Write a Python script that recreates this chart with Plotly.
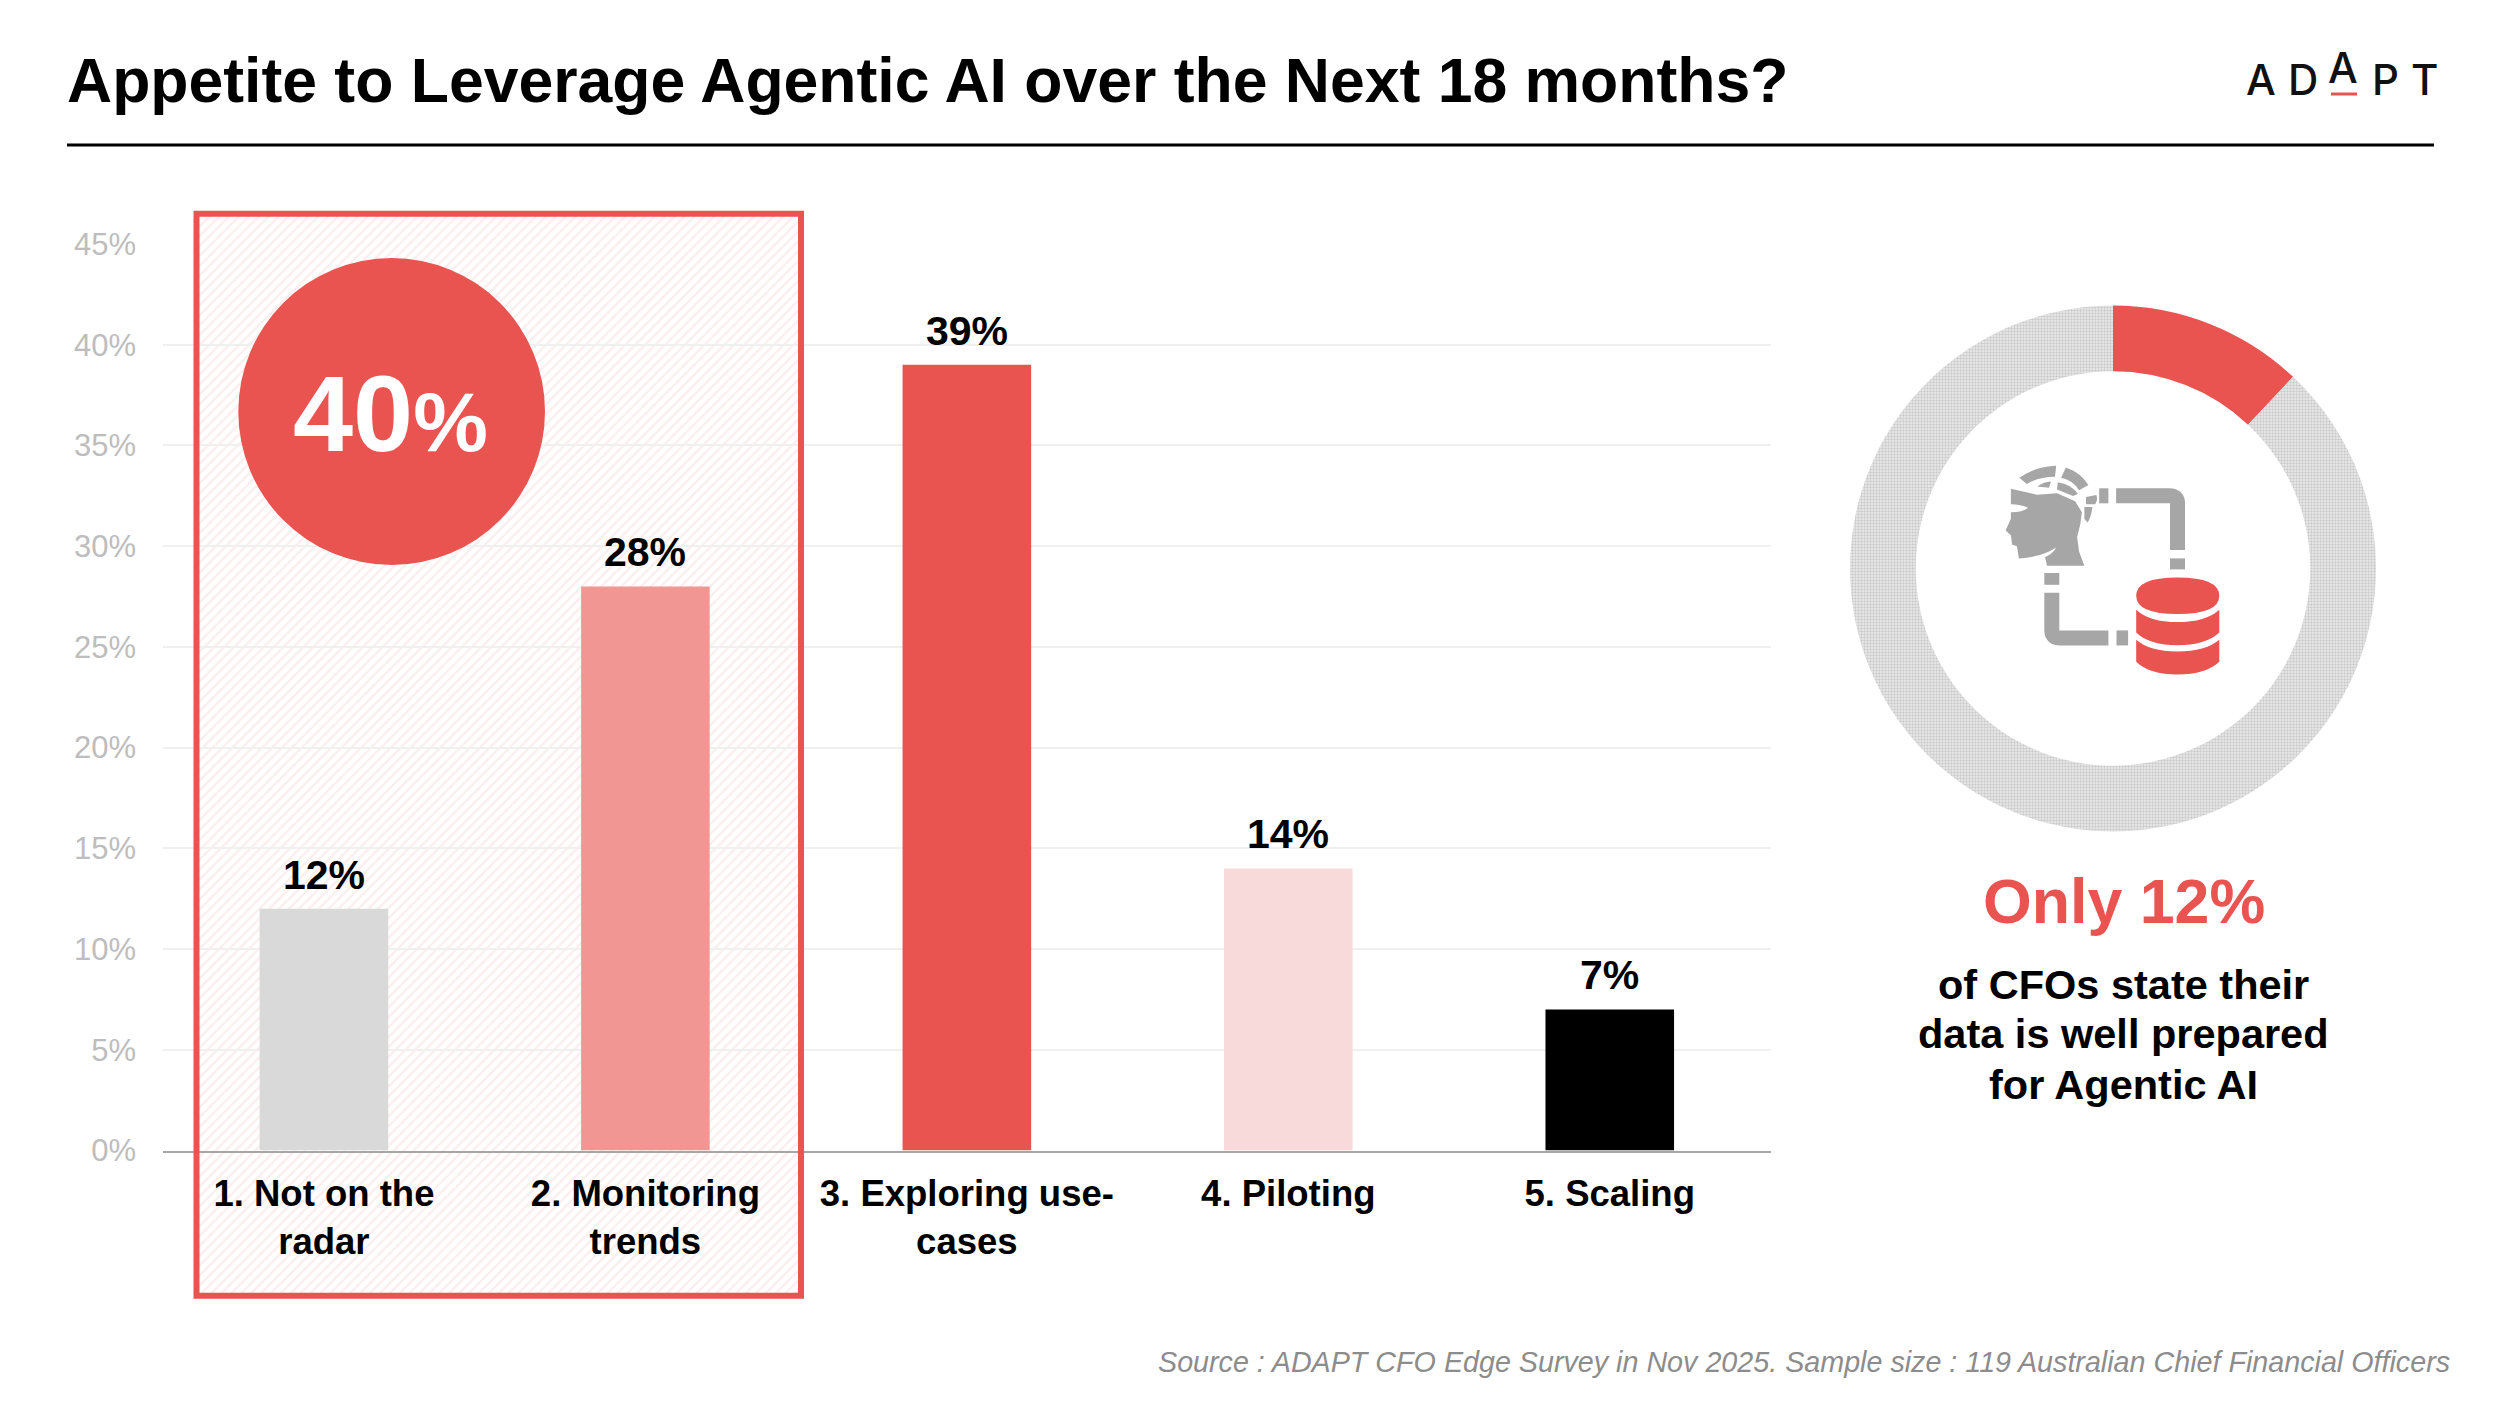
import plotly.graph_objects as go

W, H = 2500, 1406
FONT = "Liberation Sans"
RED = "#E95350"
GREY = "#A6A6A6"

# ---- data
categories = ["1. Not on the<br>radar", "2. Monitoring<br>trends", "3. Exploring use-<br>cases", "4. Piloting", "5. Scaling"]
values = [12, 28, 39, 14, 7]
bar_colors = ["#D9D9D9", "#F29694", RED, "#F8DADA", "#000000"]
y_ticks = [0, 5, 10, 15, 20, 25, 30, 35, 40, 45]
y_tick_labels = ["0%", "5%", "10%", "15%", "20%", "25%", "30%", "35%", "40%", "45%"]
donut_labels = ["Data well prepared", "Other"]
donut_values = [12, 88]
title_text = "Appetite to Leverage Agentic AI over the Next 18 months?"
source_text = "Source : ADAPT CFO Edge Survey in Nov 2025. Sample size : 119 Australian Chief Financial Officers"
callout_lines = ["of CFOs state their", "data is well prepared", "for Agentic AI"]

fig = go.Figure()

# full-canvas pixel subplot for decoration
fig.add_trace(go.Bar(
    x=[498.75], y=[1082], base=[213.7], width=[604.5], xaxis="x", yaxis="y",
    marker=dict(color="#FFFFFF", line=dict(width=0),
                pattern=dict(shape="/", size=7, solidity=0.35, fgcolor="#F6DEDD", bgcolor="#FFFFFF")),
    hoverinfo="skip", showlegend=False))

# main bars
fig.add_trace(go.Bar(
    x=categories, y=values, xaxis="x2", yaxis="y2", width=0.4,
    marker=dict(color=bar_colors, line=dict(width=0)), cliponaxis=False,
    hoverinfo="skip", showlegend=False))

for c, v in zip(categories, values):
    fig.add_annotation(x=c, y=v, xref="x2", yref="y2", text=f"{v}%", showarrow=False, yanchor="middle", yshift=34,
                       font=dict(family=FONT, size=41, color="#000000", weight=700))

# donut
cx, cy, R = 2113, 568.5, 263
fig.add_trace(go.Pie(
    labels=donut_labels, values=donut_values, hole=0.75, sort=False, direction="clockwise", rotation=0,
    textinfo="none", hoverinfo="skip", showlegend=False,
    marker=dict(colors=[RED, "#DADADA"], line=dict(width=0),
                pattern=dict(shape=["", "."], size=3, solidity=0.5, fgcolor="#CBCBCB", bgcolor="#EDEDED")),
    domain=dict(x=[(cx - R) / W, (cx + R) / W], y=[1 - (cy + R) / H, 1 - (cy - R) / H])))

shapes = [
    dict(type="line", x0=67, x1=2434, y0=145, y1=145, line=dict(color="#000000", width=3)),
    dict(type="rect", x0=196.5, x1=801, y0=213.7, y1=1295.7, line=dict(color=RED, width=6), fillcolor="rgba(0,0,0,0)"),
    dict(type="circle", x0=238.3, x1=545, y0=258, y1=565, line=dict(width=0), fillcolor=RED),
    dict(type="line", x0=2331, x1=2357, y0=94, y1=94, line=dict(color=RED, width=3)),
]
for s in shapes:
    s.update(xref="x", yref="y", layer="above")

def zx(v):
    return 1796 + v / 2.49

def zy(v):
    return 284.4 + v / 2.73

def P(d):
    out = []
    for tok in d.split():
        if tok.isalpha():
            out.append(tok)
        else:
            a, b = tok.split(",")
            out.append(f"{zx(float(a)):.1f},{zy(float(b)):.1f}")
    return " ".join(out)

def path(d, fill=None, stroke=None, width=0):
    shp = dict(type="path", path=P(d), xref="x", yref="y", layer="above",
               line=dict(width=width, color=stroke or "rgba(0,0,0,0)"))
    shp["fillcolor"] = fill if fill else "rgba(0,0,0,0)"
    shapes.append(shp)

# icon: connectors
for d in ["M 755,577 L 778,577",
          "M 797,577 L 930,577 Q 950,577 950,597 L 950,725",
          "M 950,748 L 950,778",
          "M 637,788 L 637,820",
          "M 637,842 L 637,945 Q 637,965 657,965 L 778,965",
          "M 798,965 L 827,965"]:
    path(d, stroke=GREY, width=15)

# icon: head
path("M 535,558 L 600,574 L 650,570 L 695,592 L 712,622 L 708,655 L 700,690 L 705,730 L 718,768 L 625,768 "
     "L 620,745 Q 640,735 648,718 Q 610,745 555,748 L 550,715 L 538,710 L 535,685 L 522,672 L 535,640 L 535,622 "
     "Q 565,622 578,610 Q 560,600 535,600 Z", fill=GREY)
path("M 556,528 Q 595,497 648,495 L 645,525 Q 605,525 575,545 Z", fill=GREY)
path("M 672,500 Q 710,515 728,548 L 705,562 Q 690,535 660,528 Z", fill=GREY)
path("M 600,552 Q 615,540 635,538 L 630,555 Z", fill=GREY)
path("M 652,540 Q 685,545 702,572 L 690,578 L 650,560 Z", fill=GREY)
path("M 722,580 L 748,575 Q 752,590 745,600 L 722,600 Z", fill=GREY)
path("M 718,608 L 738,608 Q 735,635 726,650 L 718,640 Z", fill=GREY)

# icon: database
path("M 847,850 Q 847,800 950,800 Q 1054,800 1054,850 Q 1054,900 950,900 Q 847,900 847,850 Z", fill=RED)
path("M 847,888 Q 880,922 950,922 Q 1020,922 1054,888 L 1054,950 Q 1020,985 950,985 Q 880,985 847,950 Z", fill=RED)
path("M 847,970 Q 880,1002 950,1002 Q 1020,1002 1054,970 L 1054,1030 Q 1020,1065 950,1065 Q 880,1065 847,1030 Z", fill=RED)

def note(x, y, text, size, color="#000000", bold=True, anchor="center", italic=False, family=FONT, weight=None):
    fig.add_annotation(x=x, y=y, xref="x", yref="y", text=text, showarrow=False, xanchor=anchor, yanchor="middle",
                       font=dict(family=family, size=size, color=color, weight=weight or (700 if bold else 400),
                                 style="italic" if italic else "normal"))

note(65, 80, title_text, 62.5, anchor="left")
note(390.5, 413, "40<span style='font-size:84px'>%</span>", 108, color="#FFFFFF")
note(2124, 901.2, "Only 12%", 62.7, color=RED)
for yy, line in zip([984, 1033.5, 1084.5], callout_lines):
    note(2123.6, yy, line, 41.5)
note(2452, 1362, source_text, 28.7, color="#8C8C8C", bold=False, anchor="right", italic=True)
for xx, yy, ch in [(2261, 79, "A"), (2303, 79, "D"), (2343, 67, "A"), (2385, 79, "P"), (2424, 79, "T")]:
    note(xx, yy, ch, 42, color="#111111", family="Inter", weight=500)

fig.update_layout(
    width=W, height=H, margin=dict(l=0, r=0, t=0, b=0, autoexpand=False), autosize=False,
    paper_bgcolor="#FFFFFF", plot_bgcolor="rgba(0,0,0,0)", bargap=0.6, shapes=shapes,
    xaxis=dict(domain=[0, 1], range=[0, W], visible=False, fixedrange=True),
    yaxis=dict(domain=[0, 1], range=[H, 0], visible=False, fixedrange=True),
    xaxis2=dict(domain=[163.2 / W, 1770.5 / W], anchor="y2", type="category", showgrid=False,
                showline=True, linecolor="#A6A6A6", linewidth=2, ticks="outside", ticklen=10,
                tickcolor="rgba(0,0,0,0)", zeroline=False,
                tickfont=dict(family=FONT, size=36.5, color="#000000", weight=700)),
    yaxis2=dict(domain=[1 - 1150.5 / H, 1 - 244 / H], anchor="x2", range=[0, 45],
                tickmode="array", tickvals=y_ticks, ticktext=y_tick_labels,
                showgrid=True, gridcolor="#F0F0F0", gridwidth=2, zeroline=False, showline=False,
                ticks="outside", ticklen=20, tickcolor="rgba(0,0,0,0)",
                tickfont=dict(family=FONT, size=31, color="#BDBDBD")),
)

fig.write_html("out.html", config={"displayModeBar": False},
               post_script="document.body.style.margin='0';document.body.style.overflow='hidden';")
